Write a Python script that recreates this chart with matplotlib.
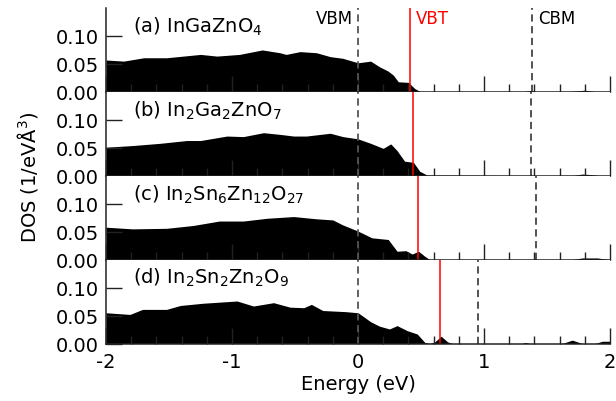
import matplotlib
matplotlib.use("Agg")
import matplotlib.pyplot as plt
from matplotlib.ticker import MultipleLocator

plt.rcParams['font.family'] = ['DejaVu Sans']
plt.rcParams['axes.unicode_minus'] = False

labels = [r"(a) InGaZnO$_4$", r"(b) In$_2$Ga$_2$ZnO$_7$",
          r"(c) In$_2$Sn$_6$Zn$_{12}$O$_{27}$", r"(d) In$_2$Sn$_2$Zn$_2$O$_9$"]

E_a = [-2.0, -1.86, -1.7, -1.52, -1.25, -1.12, -0.94, -0.76, -0.62, -0.57, -0.46, -0.33, -0.22, -0.12,
       0.0, 0.1, 0.17, 0.24, 0.28, 0.32, 0.4, 0.45, 0.49, 0.55, 1.3, 1.36, 1.38, 1.42, 1.65, 1.75, 1.8, 1.9, 2.0]
D_a = [0.057, 0.055, 0.061, 0.061, 0.067, 0.064, 0.067, 0.075, 0.070, 0.067, 0.072, 0.070, 0.063, 0.060,
       0.052, 0.055, 0.045, 0.037, 0.030, 0.018, 0.017, 0.006, 0.001, 0.0, 0.0, 0.002, 0.003, 0.0, 0.0, 0.002, 0.003, 0.0, 0.0]

E_b = [-2.0, -1.79, -1.57, -1.36, -1.25, -1.04, -0.91, -0.75, -0.62, -0.51, -0.41, -0.22, -0.12,
       0.0, 0.1, 0.2, 0.26, 0.31, 0.37, 0.44, 0.49, 0.55, 1.7, 1.78, 1.85, 1.92, 2.0]
D_b = [0.051, 0.054, 0.058, 0.063, 0.063, 0.071, 0.070, 0.077, 0.074, 0.071, 0.071, 0.076, 0.070,
       0.066, 0.058, 0.049, 0.057, 0.045, 0.026, 0.024, 0.008, 0.001, 0.0, 0.003, 0.002, 0.0, 0.0]

E_c = [-2.0, -1.79, -1.52, -1.31, -1.1, -0.91, -0.72, -0.51, -0.33, -0.2, -0.12,
       0.0, 0.11, 0.24, 0.31, 0.38, 0.43, 0.48, 0.53, 0.57, 1.7, 1.78, 1.9, 1.96, 2.0]
D_c = [0.058, 0.055, 0.056, 0.061, 0.069, 0.069, 0.074, 0.077, 0.073, 0.071, 0.062,
       0.051, 0.039, 0.036, 0.015, 0.016, 0.010, 0.015, 0.006, 0.0, 0.0, 0.003, 0.003, 0.001, 0.0]

E_d = [-2.0, -1.81, -1.71, -1.52, -1.41, -1.23, -0.96, -0.83, -0.67, -0.54, -0.43, -0.37, -0.28, -0.1,
       0.0, 0.1, 0.17, 0.25, 0.31, 0.39, 0.47, 0.53, 0.57, 0.61, 0.66, 0.71, 0.75, 1.3, 1.33, 1.36,
       1.62, 1.7, 1.78, 1.88, 1.94, 2.0]
D_d = [0.055, 0.052, 0.061, 0.061, 0.068, 0.072, 0.076, 0.067, 0.073, 0.065, 0.064, 0.070, 0.059, 0.057,
       0.055, 0.039, 0.031, 0.026, 0.032, 0.023, 0.017, 0.002, 0.0, 0.003, 0.013, 0.003, 0.0, 0.0, 0.002, 0.0,
       0.0, 0.006, 0.0, 0.0, 0.004, 0.004]

energies = [E_a, E_b, E_c, E_d]
dos = [D_a, D_b, D_c, D_d]
vbm = [0.0, 0.0, 0.0, 0.0]
vbt = [0.41, 0.44, 0.48, 0.65]
cbm = [1.38, 1.37, 1.41, 0.95]

W, H = 616, 402
fig = plt.figure(figsize=(W / 100, H / 100), dpi=100)
left, right = 106 / W, 610 / W
top_px, bot_px = 9, 344.5
ph = (bot_px - top_px) / 4

fs = 14
for i in range(4):
    y0 = 1 - (top_px + (i + 1) * ph) / H
    ax = fig.add_axes([left, y0, right - left, ph / H])
    ax.fill_between(energies[i], 0, dos[i], color='black', linewidth=0)
    ax.set_xlim(-2, 2)
    ax.set_ylim(0, 0.15)
    ax.axvline(vbm[i], color='#555555', lw=1.3, ls=(0, (4, 2.5)))
    ax.axvline(cbm[i], color='#444444', lw=1.3, ls=(0, (4, 2.5)))
    ax.axvline(vbt[i], color='red', lw=1.1)
    ax.spines['top'].set_visible(False)
    ax.spines['right'].set_visible(False)
    for s in ('left', 'bottom'):
        ax.spines[s].set_linewidth(1.1)
        ax.spines[s].set_color('#222222')
    ax.xaxis.set_major_locator(MultipleLocator(1))
    ax.xaxis.set_minor_locator(MultipleLocator(0.2))
    ax.set_yticks([0.0, 0.05, 0.10])
    ax.set_yticklabels(['0.00', '0.05', '0.10'])
    ax.tick_params(axis='both', which='major', direction='in', length=11.5, width=1.0,
                   labelsize=fs, color='#222222')
    ax.tick_params(axis='x', which='minor', direction='in', length=5.8, width=1.0, color='#222222')
    ax.tick_params(axis='y', which='major', pad=5)
    ax.tick_params(axis='x', which='major', pad=6)
    if i < 3:
        ax.tick_params(axis='x', labelbottom=False)
    ax.text(0.054, 0.79, labels[i], transform=ax.transAxes, fontsize=fs, va='center', ha='left')
    if i == 0:
        ax.text(-0.04, 0.985, 'VBM', fontsize=12, ha='right', va='top',
                transform=ax.get_xaxis_transform())
        ax.text(0.46, 0.985, 'VBT', fontsize=12, ha='left', va='top', color='red',
                transform=ax.get_xaxis_transform())
        ax.text(1.43, 0.985, 'CBM', fontsize=12, ha='left', va='top',
                transform=ax.get_xaxis_transform())
    if i == 3:
        ax.set_xlabel('Energy (eV)', fontsize=fs, labelpad=2)

fig.text(28 / W, 1 - ((top_px + bot_px) / 2) / H, r'DOS (1/eVÅ$^3$)', rotation=90,
         fontsize=fs, ha='center', va='center')

fig.savefig('out.png', dpi=100)
